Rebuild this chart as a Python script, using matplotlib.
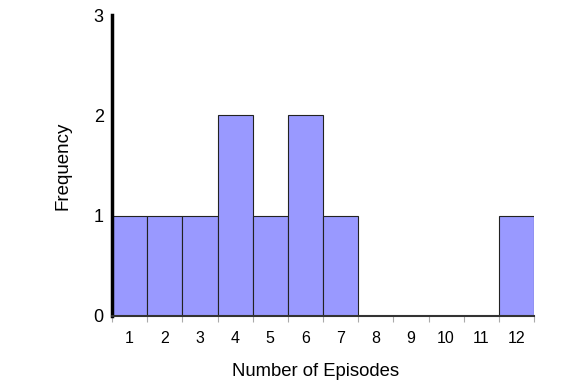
import matplotlib
matplotlib.use("Agg")
import matplotlib.pyplot as plt
import numpy as np

plt.rcParams['font.family'] = ['Liberation Sans', 'DejaVu Sans']

episodes = [1, 2, 3, 4, 5, 6, 7, 8, 9, 10, 11, 12]
frequency = [1, 1, 1, 2, 1, 2, 1, 0, 0, 0, 0, 1]
xlabels = [str(e) for e in episodes]
yticks = [0, 1, 2, 3]

fig = plt.figure(figsize=(5.84, 3.88), dpi=100)
ax = fig.add_axes([0.1918, 0.1856, 0.7226, 0.7757])

x = np.arange(len(episodes))
ax.bar(x, frequency, width=1.0, color='#9999FF', edgecolor='#222222', linewidth=0.8)

ax.set_xlim(-0.5, len(episodes) - 0.5)
ax.set_ylim(0, 3)
ax.set_xticks(x)
ax.set_xticklabels(xlabels, fontsize=11.5)
ax.tick_params(axis='x', length=0, pad=11)
ax.set_xticks(np.arange(-0.5, len(episodes) + 0.5, 1), minor=True)
ax.tick_params(axis='x', which='minor', length=4, color='#aaaaaa', width=0.8)
ax.set_yticks(yticks)
ax.set_yticklabels([str(v) for v in yticks], fontsize=13)
ax.tick_params(axis='y', length=0, pad=6)

for s in ['top', 'right']:
    ax.spines[s].set_visible(False)
ax.spines['left'].set_linewidth(2.5)
ax.spines['left'].set_color('black')
ax.spines['bottom'].set_linewidth(1.5)
ax.spines['bottom'].set_color('#333333')

ax.set_xlabel('Number of Episodes', fontsize=13.3)
ax.xaxis.set_label_coords(0.483, -0.157)
ax.set_ylabel('Frequency', fontsize=13.5)
ax.yaxis.set_label_coords(-0.097, 0.5)

fig.savefig('out.png', dpi=100)
